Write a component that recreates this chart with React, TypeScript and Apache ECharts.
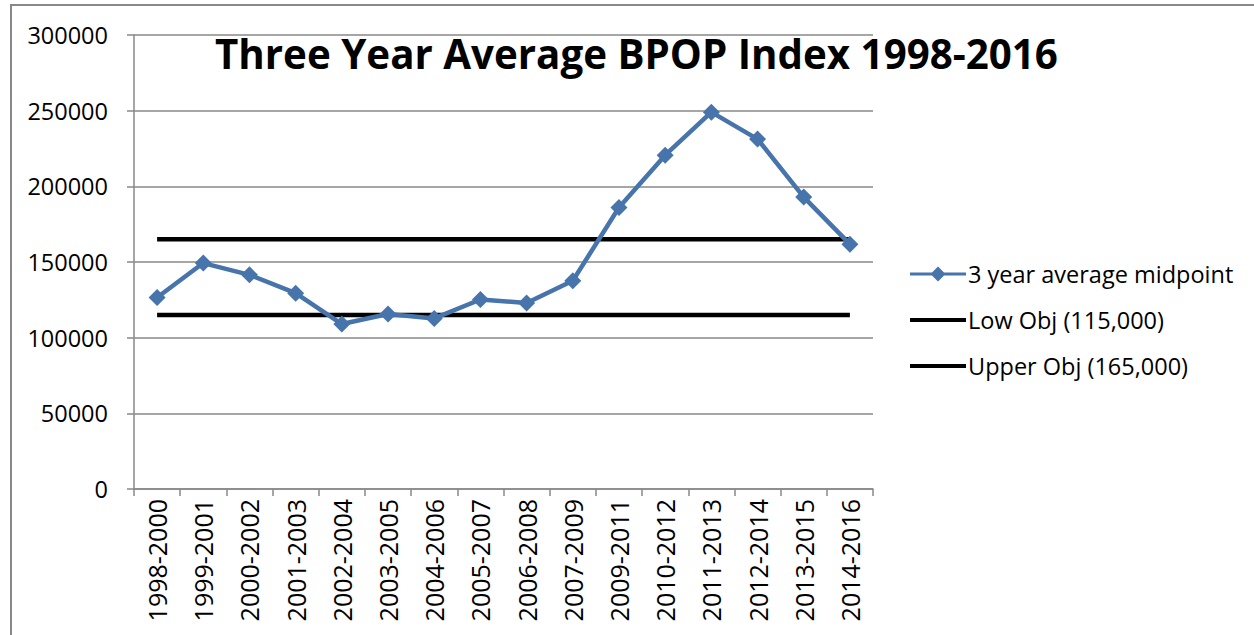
import React, { useEffect, useRef } from "react";
import * as echarts from "echarts";

const categories = [
  "1998-2000", "1999-2001", "2000-2002", "2001-2003", "2002-2004", "2003-2005",
  "2004-2006", "2005-2007", "2006-2008", "2007-2009", "2009-2011", "2010-2012",
  "2011-2013", "2012-2014", "2013-2015", "2014-2016",
];
const midpoint = [
  126500, 149300, 141500, 129400, 109000, 115600, 112700, 125200,
  122900, 137600, 186000, 220600, 249000, 231200, 192900, 161800,
];
const lowObj = categories.map(() => 115000);
const upperObj = categories.map(() => 165000);
const seriesNames = ["3 year average midpoint", "Low Obj (115,000)", "Upper Obj (165,000)"];
const titleText = "Three Year Average BPOP Index 1998-2016";

const FONT = "'Open Sans', sans-serif";
const BLUE = "#4674AB";

const ICON_LINE_DIAMOND =
  "path://M0,5.5 L56,5.5 L56,8.5 L0,8.5 Z M28,-0.5 L35.5,7 L28,14.5 L20.5,7 Z";
const ICON_LINE =
  "path://M0,-0.5 L0.01,-0.5 L0.01,-0.49 Z M0,5 L56,5 L56,9 L0,9 Z M0,14.5 L0.01,14.5 L0.01,14.49 Z";

export default function App() {
  const ref = useRef<HTMLDivElement>(null);
  useEffect(() => {
    if (!ref.current) return;
    const chart = echarts.init(ref.current, null, { renderer: "svg" });
    chart.setOption({
      animation: false,
      backgroundColor: "#ffffff",
      textStyle: { fontFamily: FONT },
      title: {
        text: titleText,
        left: 210,
        top: 28,
        textStyle: { fontFamily: FONT, fontWeight: "bold", fontSize: 40.3, color: "#000" },
      },
      graphic: [
        {
          type: "rect",
          shape: { x: 11, y: 5, width: 1400, height: 800 },
          style: { fill: "none", stroke: "#888888", lineWidth: 2 },
          silent: true,
        },
      ],
      legend: {
        orient: "vertical",
        left: 905,
        top: 257,
        itemWidth: 56,
        itemHeight: 15,
        itemGap: 22,
        textStyle: { fontFamily: FONT, fontSize: 23.5, color: "#000", padding: [0, 0, 0, -3] },
        data: [
          { name: seriesNames[0], icon: ICON_LINE_DIAMOND, itemStyle: { color: BLUE } },
          { name: seriesNames[1], icon: ICON_LINE, itemStyle: { color: "#000" } },
          { name: seriesNames[2], icon: ICON_LINE, itemStyle: { color: "#000" } },
        ],
      },
      grid: { left: 134, right: 381, top: 35, bottom: 146, containLabel: false },
      xAxis: {
        type: "category",
        data: categories,
        boundaryGap: true,
        axisLine: { lineStyle: { color: "#888888", width: 1.5 } },
        axisTick: { show: true, length: 7, lineStyle: { color: "#888888", width: 1.5 } },
        axisLabel: { rotate: 90, fontSize: 25, color: "#000", margin: 10, interval: 0, fontFamily: FONT },
        splitLine: { show: false },
      },
      yAxis: {
        type: "value",
        min: 0,
        max: 300000,
        interval: 50000,
        axisLine: { show: true, lineStyle: { color: "#888888", width: 1.5 } },
        axisTick: { show: true, length: 7, lineStyle: { color: "#888888", width: 1.5 } },
        axisLabel: {
          fontSize: 23.5,
          color: "#000",
          margin: 26,
          fontFamily: FONT,
          formatter: (v: number) => String(v),
        },
        splitLine: { show: true, lineStyle: { color: "#888888", width: 1.5 } },
      },
      series: [
        {
          name: seriesNames[0],
          type: "line",
          data: midpoint,
          symbol: "diamond",
          symbolSize: 17,
          lineStyle: { color: BLUE, width: 4.5 },
          itemStyle: { color: BLUE },
          z: 3,
        },
        {
          name: seriesNames[1],
          type: "line",
          data: lowObj,
          symbol: "none",
          lineStyle: { color: "#000", width: 4.5 },
          itemStyle: { color: "#000" },
          z: 2,
        },
        {
          name: seriesNames[2],
          type: "line",
          data: upperObj,
          symbol: "none",
          lineStyle: { color: "#000", width: 4.5 },
          itemStyle: { color: "#000" },
          z: 2,
        },
      ],
    });
    return () => chart.dispose();
  }, []);
  return (
    <div
      ref={ref}
      style={{ position: "fixed", left: 0, top: 0, width: 1254, height: 635 }}
    />
  );
}
